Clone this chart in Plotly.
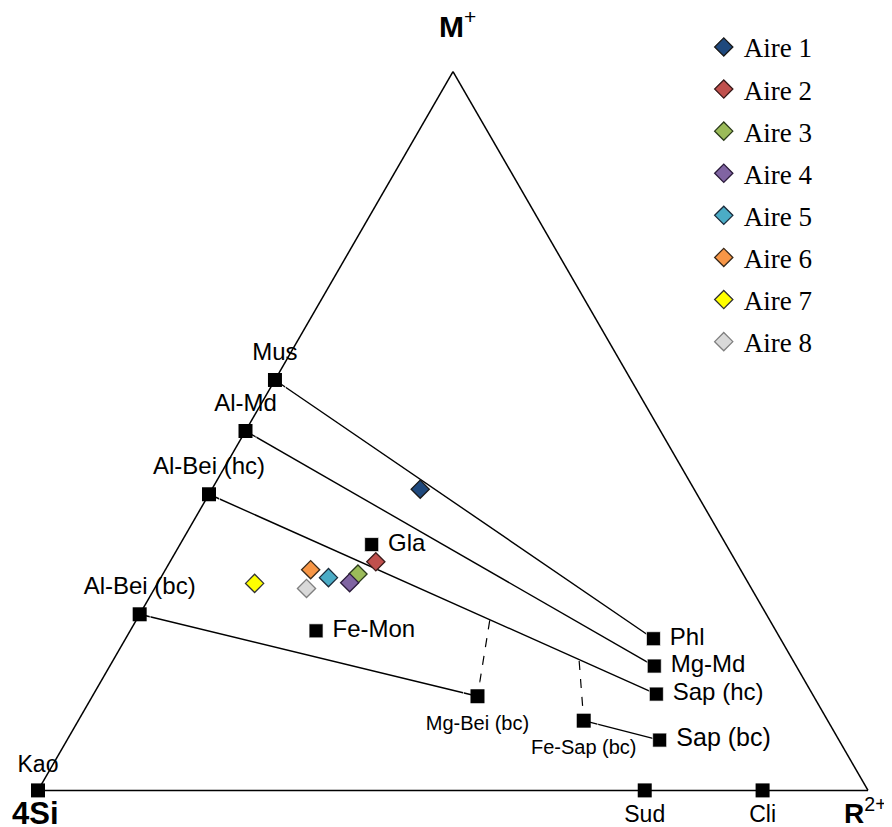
import plotly.graph_objects as go

# Reference minerals: ternary fractions M+ (top), R2+ (bottom-right); 4Si = 1 - M - R
mineral_names = ["Kao", "Mus", "Al-Md", "Al-Bei (hc)", "Al-Bei (bc)", "Gla", "Fe-Mon",
                 "Phl", "Mg-Md", "Sap (hc)", "Sap (bc)", "Fe-Sap (bc)", "Mg-Bei (bc)",
                 "Sud", "Cli"]
mineral_M = [0.0, 0.571, 0.50, 0.412, 0.245, 0.342, 0.222,
             0.211, 0.173, 0.134, 0.070, 0.097, 0.131, 0.0, 0.0]
mineral_R = [0.0, 0.0, 0.0, 0.0, 0.0, 0.231, 0.224,
             0.636, 0.656, 0.678, 0.714, 0.609, 0.464, 0.731, 0.873]
mineral_textpos = ["top center", "top center", "top center", "top center", "top center",
                   "middle right", "middle right", "middle right", "middle right",
                   "middle right", "middle right", "bottom center", "bottom center",
                   "bottom center", "bottom center"]
mineral_textsize = [23, 24, 24, 24, 24, 24, 24, 24, 24, 24, 25, 20, 20, 23, 23]
# spacing between a marker and its label (size of an invisible marker)
label_gap = [18, 21, 21, 21, 21, 14, 14, 14, 14, 14, 14, 28, 28, 22, 22]

# Tie lines between reference minerals
tie_lines = [("Mus", "Phl"), ("Al-Md", "Mg-Md"), ("Al-Bei (hc)", "Sap (hc)"),
             ("Al-Bei (bc)", "Mg-Bei (bc)"), ("Fe-Sap (bc)", "Sap (bc)")]

# Dashed links (point on Al-Bei(hc)-Sap(hc) line -> mineral)
dashed_M = [0.2365, 0.180]
dashed_R = [0.426, 0.562]
dashed_to = ["Mg-Bei (bc)", "Fe-Sap (bc)"]

# Samples
sample_names = ["Aire 1", "Aire 2", "Aire 3", "Aire 4", "Aire 5", "Aire 6", "Aire 7", "Aire 8"]
sample_M = [0.419, 0.318, 0.301, 0.289, 0.296, 0.307, 0.288, 0.281]
sample_R = [0.251, 0.248, 0.235, 0.231, 0.202, 0.175, 0.117, 0.183]
sample_colors = ["#1F497D", "#C0504D", "#9BBB59", "#8064A2", "#4BACC6", "#F79646", "#FFFF00", "#D9D9D9"]
sample_edges = ["#1a1a1a", "#3a1a1a", "#2a3a1a", "#2a1a3a", "#1a2a3a", "#3a2a1a", "#333333", "#7f7f7f"]

# Vertex labels
vertex_labels = ["<b>M</b><sup>+</sup>", "<b>4Si</b>", "<b>R</b><sup>2+</sup>"]

idx = {n: i for i, n in enumerate(mineral_names)}
mineral_S = [1 - x - y for x, y in zip(mineral_M, mineral_R)]

fig = go.Figure()

for p, q in tie_lines:
    i, j = idx[p], idx[q]
    a = [mineral_M[i], mineral_M[j]]
    c = [mineral_R[i], mineral_R[j]]
    b = [1 - x - y for x, y in zip(a, c)]
    fig.add_trace(go.Scatterternary(a=a, b=b, c=c, mode="lines",
                                    line=dict(color="black", width=1.4),
                                    showlegend=False, hoverinfo="skip"))

for m, r, tgt in zip(dashed_M, dashed_R, dashed_to):
    j = idx[tgt]
    a = [m, mineral_M[j]]
    c = [r, mineral_R[j]]
    b = [1 - x - y for x, y in zip(a, c)]
    fig.add_trace(go.Scatterternary(a=a, b=b, c=c, mode="lines",
                                    line=dict(color="black", width=1.2, dash="dash"),
                                    showlegend=False, hoverinfo="skip"))

# mineral markers
fig.add_trace(go.Scatterternary(
    a=mineral_M, b=mineral_S, c=mineral_R, mode="markers", text=mineral_names,
    marker=dict(symbol="square", size=14, color="black"),
    showlegend=False, cliponaxis=False, hoverinfo="text"))

# mineral labels
labels = [(" " + n if tp == "middle right" else n) for n, tp in zip(mineral_names, mineral_textpos)]
fig.add_trace(go.Scatterternary(
    a=mineral_M, b=mineral_S, c=mineral_R,
    mode="markers+text", text=labels, textposition=mineral_textpos,
    textfont=dict(family="Liberation Sans, Arial", size=mineral_textsize, color="black"),
    marker=dict(symbol="square", size=label_gap, color="rgba(0,0,0,0)"),
    showlegend=False, cliponaxis=False, hoverinfo="skip"))

for n, m, r, col, ec in zip(sample_names, sample_M, sample_R, sample_colors, sample_edges):
    fig.add_trace(go.Scatterternary(
        a=[m], c=[r], b=[1 - m - r], mode="markers", name=n, legendgroup=n,
        marker=dict(symbol="diamond", size=14, color=col, line=dict(color=ec, width=1.3)),
        cliponaxis=False))

W, H = 892, 827
axis_common = dict(showticklabels=False, ticks="", showgrid=False,
                   linecolor="black", linewidth=1.5, min=0, title=dict(text=""))
fig.update_layout(
    width=W, height=H,
    margin=dict(l=0, r=0, t=0, b=0),
    paper_bgcolor="white",
    ternary=dict(
        sum=1,
        bgcolor="white",
        domain=dict(x=[30 / W, 860 / W], y=[(H - 784) / H, (H - 62) / H]),
        aaxis=axis_common, baxis=axis_common, caxis=axis_common,
    ),
    legend=dict(x=0.780, y=0.982, xanchor="left", yanchor="top",
                font=dict(family="Liberation Serif, Times New Roman", size=27, color="black"),
                tracegroupgap=4, traceorder="grouped", itemwidth=30,
                bgcolor="rgba(0,0,0,0)"),
    annotations=[
        dict(text=vertex_labels[0], x=429 / W, y=1 - 16 / H, xref="paper", yref="paper",
             xanchor="left", yanchor="middle", showarrow=False,
             font=dict(family="Liberation Sans, Arial", size=30, color="black")),
        dict(text=vertex_labels[1], x=2 / W, y=1 - 805 / H, xref="paper", yref="paper",
             xanchor="left", yanchor="middle", showarrow=False,
             font=dict(family="Liberation Sans, Arial", size=31, color="black")),
        dict(text=vertex_labels[2], x=834 / W, y=1 - 803 / H, xref="paper", yref="paper",
             xanchor="left", yanchor="middle", showarrow=False,
             font=dict(family="Liberation Sans, Arial", size=28, color="black")),
    ],
)

fig.write_html("out.html")
